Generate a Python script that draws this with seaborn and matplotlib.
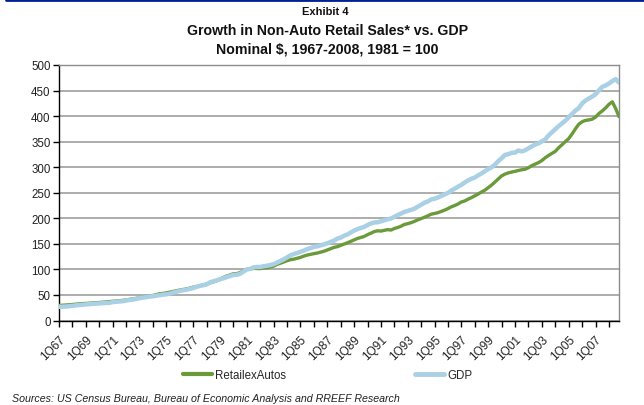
import numpy as np
import pandas as pd
import matplotlib
matplotlib.use("Agg")
import matplotlib.pyplot as plt
import seaborn as sns
from matplotlib.lines import Line2D

# ---------------- data (index, 1Q81 = 100) ----------------
years = list(range(1967, 2009))
quarters = [f"{q}Q{str(y)[2:]}" for y in years for q in (1, 2, 3, 4)]

retail_ex_autos = [
    29.5, 29.9, 30.3, 30.7,      # 1967
    31.4, 32.0, 32.6, 32.9,      # 1968
    33.4, 33.8, 34.2, 34.5,      # 1969
    35.2, 35.8, 36.3, 36.9,      # 1970
    37.5, 38.1, 38.7, 39.3,      # 1971
    40.3, 41.2, 42.2, 43.3,      # 1972
    44.8, 45.8, 47.0, 47.8,      # 1973
    49.0, 50.7, 52.3, 53.0,      # 1974
    54.0, 55.4, 57.0, 58.2,      # 1975
    59.6, 60.6, 61.7, 63.3,      # 1976
    65.2, 66.5, 67.8, 69.9,      # 1977
    71.0, 73.6, 75.5, 77.8,      # 1978
    81.0, 84.0, 87.0, 89.0,      # 1979
    91.5, 91.5, 94.0, 97.0,      # 1980
    100.0, 100.8, 102.0, 101.8,  # 1981
    101.5, 102.8, 103.0, 104.8,  # 1982
    106.4, 109.8, 112.0, 114.5,  # 1983
    117.0, 119.0, 120.0, 121.8,  # 1984
    123.5, 126.0, 128.0, 129.5,  # 1985
    130.8, 132.0, 133.8, 135.5,  # 1986
    138.0, 140.5, 143.0, 144.5,  # 1987
    147.0, 149.5, 152.0, 154.8,  # 1988
    157.5, 160.5, 162.5, 164.5,  # 1989
    168.0, 170.8, 174.0, 175.5,  # 1990
    175.0, 176.5, 177.8, 177.0,  # 1991
    180.0, 182.0, 184.5, 188.0,  # 1992
    189.5, 191.5, 194.0, 197.0,  # 1993
    199.5, 202.0, 205.0, 208.0,  # 1994
    209.5, 211.0, 213.5, 216.0,  # 1995
    219.0, 222.5, 225.0, 228.0,  # 1996
    232.0, 234.0, 237.5, 240.5,  # 1997
    244.0, 247.5, 251.5, 255.0,  # 1998
    260.0, 265.0, 271.0, 277.0,  # 1999
    283.0, 286.5, 289.0, 290.5,  # 2000
    292.0, 293.5, 295.0, 296.0,  # 2001
    299.0, 303.0, 306.0, 309.0,  # 2002
    313.0, 318.5, 323.0, 327.0,  # 2003
    331.0, 338.0, 344.0, 350.0,  # 2004
    356.0, 365.0, 375.0, 384.0,  # 2005
    389.0, 391.5, 392.5, 394.0,  # 2006
    398.0, 405.0, 410.0, 416.0,  # 2007
    423.0, 428.0, 415.0, 399.0,  # 2008
]

gdp = [
    26.7, 27.0, 27.4, 27.9,      # 1967
    28.8, 29.6, 30.1, 30.7,      # 1968
    31.5, 32.0, 32.6, 32.9,      # 1969
    33.4, 33.8, 34.4, 34.5,      # 1970
    36.0, 36.6, 37.3, 37.8,      # 1971
    39.0, 40.2, 41.0, 42.2,      # 1972
    43.8, 44.9, 45.6, 46.9,      # 1973
    47.5, 48.5, 49.7, 50.6,      # 1974
    51.2, 52.6, 54.5, 56.1,      # 1975
    58.1, 59.2, 60.2, 61.8,      # 1976
    63.6, 65.8, 67.7, 69.1,      # 1977
    70.5, 74.6, 76.5, 78.6,      # 1978
    80.7, 82.5, 84.9, 86.9,      # 1979
    89.3, 89.4, 91.3, 95.6,      # 1980
    100.0, 101.0, 103.9, 104.8,  # 1981
    104.7, 106.2, 107.1, 108.4,  # 1982
    110.3, 113.2, 116.5, 119.7,  # 1983
    123.5, 127.6, 130.1, 132.1,  # 1984
    134.5, 136.8, 139.6, 141.7,  # 1985
    143.8, 145.1, 147.0, 149.0,  # 1986
    151.0, 153.8, 156.2, 160.2,  # 1987
    162.2, 165.8, 168.4, 172.1,  # 1988
    175.9, 178.8, 181.1, 183.1,  # 1989
    186.9, 189.8, 191.9, 192.2,  # 1990
    194.2, 196.3, 198.0, 199.6,  # 1991
    202.9, 206.3, 209.2, 212.5,  # 1992
    214.4, 216.7, 218.8, 222.9,  # 1993
    226.5, 230.5, 233.0, 236.9,  # 1994
    238.3, 240.7, 243.9, 246.9,  # 1995
    249.6, 254.5, 257.8, 262.0,  # 1996
    265.6, 270.1, 274.3, 277.4,  # 1997
    279.8, 284.1, 287.8, 292.2,  # 1998
    296.3, 300.0, 304.9, 311.9,  # 1999
    317.6, 324.1, 325.5, 328.1,  # 2000
    328.6, 332.6, 330.7, 333.2,  # 2001
    336.9, 340.6, 344.4, 346.6,  # 2002
    350.6, 354.3, 362.2, 368.3,  # 2003
    374.2, 380.4, 385.8, 391.1,  # 2004
    397.6, 404.3, 410.9, 415.6,  # 2005
    424.8, 430.5, 434.3, 438.2,  # 2006
    442.8, 450.3, 457.2, 459.9,  # 2007
    463.8, 468.5, 472.4, 465.4,  # 2008
]

series_names = ["RetailexAutos", "GDP"]
series_colors = ["#6a9a3a", "#a9d0e4"]

df = pd.DataFrame({
    "pos": np.arange(len(quarters)),
    "quarter": quarters,
    "RetailexAutos": retail_ex_autos,
    "GDP": gdp,
})

# ---------------- figure ----------------
sns.set_theme(style="white")
plt.rcParams["font.family"] = ["Liberation Sans", "DejaVu Sans"]

fig = plt.figure(figsize=(6.44, 4.06), dpi=100)
ax = fig.add_axes([59 / 644, 1 - 321.5 / 406, 560 / 644, 255.5 / 406])

sns.lineplot(data=df, x="pos", y="RetailexAutos", ax=ax, color=series_colors[0],
             linewidth=2.4, zorder=3)
sns.lineplot(data=df, x="pos", y="GDP", ax=ax, color=series_colors[1],
             linewidth=3.2, zorder=4)

ax.set_xlim(0, len(quarters) - 1)
ax.set_ylim(0, 500)
ax.set_yticks(np.arange(0, 501, 50))
ax.set_yticklabels([str(v) for v in range(0, 501, 50)], fontsize=8.3, color="#222222")

tick_pos = list(range(0, len(quarters), 4))
ax.set_xticks(tick_pos)
ax.set_xticklabels([quarters[p] if p % 8 == 0 else "" for p in tick_pos],
                   rotation=45, ha="right", va="top", rotation_mode="anchor",
                   fontsize=8.6, color="#222222")
ax.set_xlabel("")
ax.set_ylabel("")

ax.grid(axis="y", color="#a6a6a6", linewidth=1.3)
ax.grid(axis="x", visible=False)
ax.set_axisbelow(True)

for side in ("top", "right"):
    ax.spines[side].set_color("#8c8c8c")
    ax.spines[side].set_linewidth(1.0)
for side in ("left", "bottom"):
    ax.spines[side].set_color("#000000")
    ax.spines[side].set_linewidth(1.0)

ax.tick_params(axis="y", which="both", left=True, length=4, width=1, color="#000000", pad=2)
ax.tick_params(axis="x", which="both", bottom=True, length=4, width=1, color="#000000", pad=5)

# titles
fig.text(0.505, 1 - 12 / 406, "Exhibit 4", ha="center", va="center",
         fontsize=8, fontweight="bold", color="#111111")
fig.text(0.508, 1 - 31 / 406, "Growth in Non-Auto Retail Sales* vs. GDP",
         ha="center", va="center", fontsize=10.2, fontweight="bold", color="#111111")
fig.text(0.508, 1 - 49 / 406, "Nominal $, 1967-2008, 1981 = 100",
         ha="center", va="center", fontsize=10.2, fontweight="bold", color="#111111")

# legend
handles = [Line2D([0], [0], color=series_colors[0], linewidth=3.0),
           Line2D([0], [0], color=series_colors[1], linewidth=3.5)]
fig.legend(handles, series_names, loc="center", bbox_to_anchor=(328 / 644, 1 - 376 / 406),
           ncol=2, frameon=False, fontsize=8.3, columnspacing=11.2, handlelength=2.5,
           handletextpad=0.3)

# source
fig.text(12 / 644, 1 - 399 / 406,
         "Sources: US Census Bureau, Bureau of Economic Analysis and RREEF Research",
         ha="left", va="center", fontsize=7.7, style="italic", color="#222222")

# top rule
fig.add_artist(Line2D([6 / 644, 1.0], [1 - 1 / 406, 1 - 1 / 406], transform=fig.transFigure,
                      color="#001e96", linewidth=2.0))

fig.savefig("out.png", dpi=100)
